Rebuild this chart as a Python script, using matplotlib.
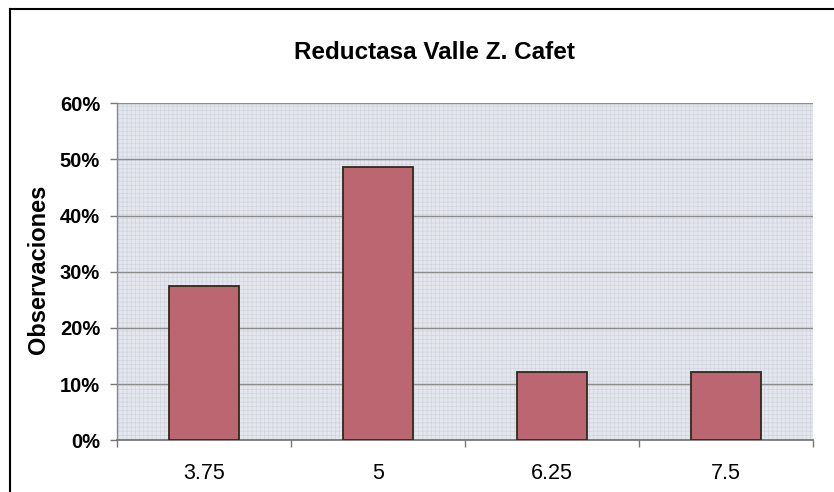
import matplotlib
matplotlib.use("Agg")
import matplotlib.pyplot as plt
from matplotlib.lines import Line2D
from matplotlib.ticker import FixedLocator, PercentFormatter

categories = ["3.75", "5", "6.25", "7.5"]
values = [27.4, 48.6, 12.2, 12.2]  # percent of observations
y_ticks = [0, 10, 20, 30, 40, 50, 60]
title = "Reductasa Valle Z. Cafet"
ylabel = "Observaciones"

plt.rcParams['font.family'] = ['Liberation Sans', 'DejaVu Sans']
plt.rcParams['hatch.color'] = '#ccd0d8'
plt.rcParams['hatch.linewidth'] = 0.5

W, H = 834, 492
fig = plt.figure(figsize=(W / 100, H / 100), dpi=100)
fig.patch.set_facecolor('white')

L, R, T, B = 116.7, 813.3, 103.3, 440.3
ax = fig.add_axes([L / W, 1 - B / H, (R - L) / W, (B - T) / H])
ax.set_facecolor('#e4e7ee')
ax.patch.set_hatch('++++')
ax.patch.set_edgecolor('#d0d4dc')

x = list(range(len(categories)))
ax.bar(x, values, width=0.40, color='#bb6670', edgecolor='#2e2a1c',
       linewidth=1.3, zorder=3)

ax.set_xlim(-0.5, len(categories) - 0.5)
ax.set_ylim(0, 60)
ax.set_yticks(y_ticks)
ax.yaxis.set_major_formatter(PercentFormatter(decimals=0))
ax.yaxis.grid(True, color='#8c8c8c', linewidth=1.0, zorder=1)
ax.set_axisbelow(True)

ax.set_xticks(x)
ax.set_xticklabels(categories)
ax.xaxis.set_minor_locator(FixedLocator([i - 0.5 for i in range(len(categories) + 1)]))
ax.tick_params(axis='x', which='major', length=0, pad=16, labelsize=15.5)
ax.tick_params(axis='x', which='minor', length=5, width=1.0, color='#777777', direction='out')
ax.tick_params(axis='y', length=5, width=1.0, color='#777777', direction='out',
               pad=7, labelsize=14.5)
for lab in ax.get_yticklabels():
    lab.set_fontweight('bold')

for s in ['top', 'right']:
    ax.spines[s].set_visible(False)
ax.spines['left'].set_color('#8a8a8a')
ax.spines['bottom'].set_color('#6f6f6f')
ax.spines['left'].set_linewidth(1.0)
ax.spines['bottom'].set_linewidth(1.2)

fig.text(434 / W, 1 - 52.5 / H, title, ha='center', va='center',
         fontsize=17.5, fontweight='bold')
fig.text(38.5 / W, 1 - 269 / H, ylabel, ha='center', va='center',
         rotation=90, fontsize=17, fontweight='bold')

# outer chart frame (cropped at right and bottom)
fig.add_artist(Line2D([9.5 / W, 9.5 / W], [0, 1 - 9 / H], color='black', linewidth=1.5))
fig.add_artist(Line2D([9.5 / W, 1], [1 - 9 / H, 1 - 9 / H], color='black', linewidth=1.5))

fig.savefig("out.png", dpi=100)
